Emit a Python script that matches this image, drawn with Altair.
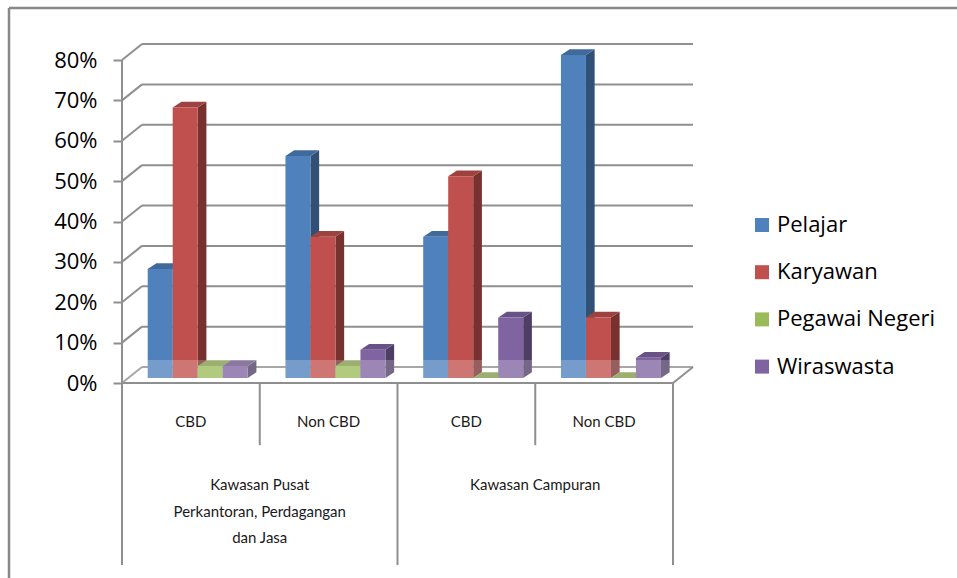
import altair as alt
import pandas as pd

# ---- data -------------------------------------------------------------
subcats = ["CBD", "Non CBD", "CBD", "Non CBD"]
regions = ["Kawasan Pusat\nPerkantoran, Perdagangan\ndan Jasa", "Kawasan Campuran"]
series = ["Pelajar", "Karyawan", "Pegawai Negeri", "Wiraswasta"]
pelajar = [27, 55, 35, 80]
karyawan = [67, 35, 50, 15]
pegawai_negeri = [3, 3, 0, 0]
wiraswasta = [3, 7, 15, 5]
y_ticks = [0, 10, 20, 30, 40, 50, 60, 70, 80]

values = [pelajar, karyawan, pegawai_negeri, wiraswasta]
front_colors = ["#4f81bd", "#c0504d", "#9bbb59", "#8064a2"]
side_colors = ["#315075", "#773230", "#607437", "#4f3e64"]
top_colors = ["#416a9b", "#9d423f", "#7f9949", "#695285"]

# ---- geometry (pixels per data unit and 3-D depth offsets) -----------
PX_X = 137.75           # pixels per category slot
PX_Y = 4.0375           # pixels per percent
W, H = 835, 578
LEFT = 122
X_MAX = W / PX_X
Y_MAX = 383 / PX_Y
Y_MIN = -(H - 383) / PX_Y

wall_dx, wall_dy = 20 / PX_X, 16 / PX_Y
bar_off_x, bar_base = 6.25 / PX_X, 5 / PX_Y
bar_lead, bar_w = 19.45 / PX_X, 25 / PX_X
bar_dx, bar_dy = 8.7 / PX_X, 5.7 / PX_Y
n_slots = len(subcats)

front_rows, side_rows, top_rows = [], [], []
for i in range(n_slots):
    for j, name in enumerate(series):
        v = values[j][i]
        bid = f"{i}-{j}"
        xl = i + bar_off_x + bar_lead + j * bar_w
        xr = xl + bar_w
        lo, hi = bar_base, bar_base + v
        front_rows.append(dict(series=name, xl=xl, xr=xr, lo=lo, hi=hi, v=v))
        side_rows += [
            dict(bid=bid, shade=side_colors[j], x=xr, lo=lo, hi=hi),
            dict(bid=bid, shade=side_colors[j], x=xr + bar_dx, lo=lo + bar_dy, hi=hi + bar_dy),
        ]
        top_rows += [
            dict(bid=bid, shade=top_colors[j], x=xl, lo=hi, hi=hi),
            dict(bid=bid, shade=top_colors[j], x=xl + bar_dx, lo=hi, hi=hi + bar_dy),
            dict(bid=bid, shade=top_colors[j], x=xr, lo=hi, hi=hi + bar_dy),
            dict(bid=bid, shade=top_colors[j], x=xr + bar_dx, lo=hi + bar_dy, hi=hi + bar_dy),
        ]

front = pd.DataFrame(front_rows)
side = pd.DataFrame(side_rows)
top = pd.DataFrame(top_rows)

xs = alt.Scale(domain=[0, X_MAX], nice=False, zero=False)
ys = alt.Scale(domain=[Y_MIN, Y_MAX], nice=False, zero=False)
GRID = "#8f8f8f"

# percent axis on the front edge (shared by every layer)
y_axis = alt.Axis(values=y_ticks, labelExpr="datum.value + '%'",
                  domain=False, grid=False, ticks=True, tickSize=9, tickWidth=2,
                  tickColor=GRID, labelFontSize=22, labelFont="Open Sans",
                  labelColor="#000000", labelPadding=16, title=None)


def X(field):
    return alt.X(field, scale=xs, axis=None)


def Y(field):
    return alt.Y(field, scale=ys, axis=y_axis)


# back wall gridlines and side-wall diagonals
grid = pd.DataFrame({"lvl": y_ticks})
grid["x0"] = wall_dx
grid["x1"] = n_slots + wall_dx
grid["yb"] = grid["lvl"] + wall_dy
grid["z"] = 0.0
back_lines = alt.Chart(grid).mark_rule(color=GRID, strokeWidth=2).encode(
    x=X("x0:Q"), x2="x1:Q", y=Y("yb:Q"),
)
diag_lines = alt.Chart(grid).mark_rule(color=GRID, strokeWidth=2).encode(
    x=X("z:Q"), x2="x0:Q", y=Y("lvl:Q"), y2="yb:Q",
)

# floor edges, front axis and category dividers
edges = pd.DataFrame({
    "x": [0, n_slots, 0, 0, 1, 2, 3, 4],
    "x2": [n_slots, n_slots + wall_dx, 0, 0, 1, 2, 3, 4],
    "y": [0, 0, 0, 0, 0, 0, 0, 0],
    "y2": [0, wall_dy, 80, -45.1, -15.4, -45.1, -15.4, -45.1],
})
edge_lines = alt.Chart(edges).mark_rule(color=GRID, strokeWidth=2).encode(
    x=X("x:Q"), x2="x2:Q", y=Y("y:Q"), y2="y2:Q",
)

side_faces = alt.Chart(side).mark_area(orient="vertical", interpolate="linear").encode(
    x=X("x:Q"), y=Y("lo:Q"), y2="hi:Q",
    detail="bid:N", fill=alt.Fill("shade:N", scale=None),
)
top_faces = alt.Chart(top).mark_area(orient="vertical", interpolate="linear").encode(
    x=X("x:Q"), y=Y("lo:Q"), y2="hi:Q",
    detail="bid:N", fill=alt.Fill("shade:N", scale=None),
)
front_faces = alt.Chart(front).mark_rect().encode(
    x=X("xl:Q"), x2="xr:Q",
    y=Y("lo:Q"), y2="hi:Q",
    color=alt.Color("series:N", sort=series,
                    scale=alt.Scale(domain=series, range=front_colors),
                    legend=alt.Legend(title=None, orient="none", legendX=629, legendY=214,
                                      symbolType="square", symbolSize=196, symbolStrokeWidth=0,
                                      labelFontSize=22, labelFont="Open Sans",
                                      labelColor="#000000", labelOffset=4, rowPadding=25.2,
                                      padding=0)),
)

# light haze across the lower band of the columns
haze = pd.DataFrame({"x": [0.0], "x2": [n_slots + wall_dx], "y": [0.0], "y2": [23 / PX_Y]})
haze_band = alt.Chart(haze).mark_rect(color="#ffffff", opacity=0.22).encode(
    x=X("x:Q"), x2="x2:Q", y=Y("y:Q"), y2="y2:Q",
)

# category labels
sub_df = pd.DataFrame({"label": subcats, "x": [i + 0.5 for i in range(n_slots)],
                       "y": [-(421.5 - 383) / PX_Y] * n_slots})
sub_text = alt.Chart(sub_df).mark_text(font="Lato", fontSize=15, color="#1a1a1a",
                                       baseline="middle").encode(
    x=X("x:Q"), y=Y("y:Q"), text="label:N",
)
reg_df = pd.DataFrame({"label": regions, "x": [1.0, 3.0],
                       "y": [-(478 - 383) / PX_Y] * 2})
reg_text = alt.Chart(reg_df).mark_text(font="Lato", fontSize=15, color="#1a1a1a",
                                       baseline="top", lineBreak="\n", lineHeight=26.5).encode(
    x=X("x:Q"), y=Y("y:Q"), text="label:N",
)

# outer frame of the chart area
frame_top = alt.Chart(haze).mark_rule(color="#888888", strokeWidth=2.5).encode(
    x=alt.value(-LEFT + 9), x2=alt.value(W + 10), y=alt.value(8),
)
frame_left = alt.Chart(haze).mark_rule(color="#888888", strokeWidth=2.5).encode(
    x=alt.value(-LEFT + 9), y=alt.value(8), y2=alt.value(H + 10),
)

chart = alt.layer(
    back_lines, frame_top, frame_left, diag_lines, side_faces, top_faces, front_faces,
    haze_band, edge_lines, sub_text, reg_text,
).properties(
    width=W, height=H,
    background="#ffffff",
    padding={"left": LEFT, "top": 0, "right": 0, "bottom": 0},
    autosize=alt.AutoSizeParams(type="none"),
).configure_view(stroke="transparent", strokeWidth=0)

chart.save("out.html", embed_options={"renderer": "svg", "actions": False})
